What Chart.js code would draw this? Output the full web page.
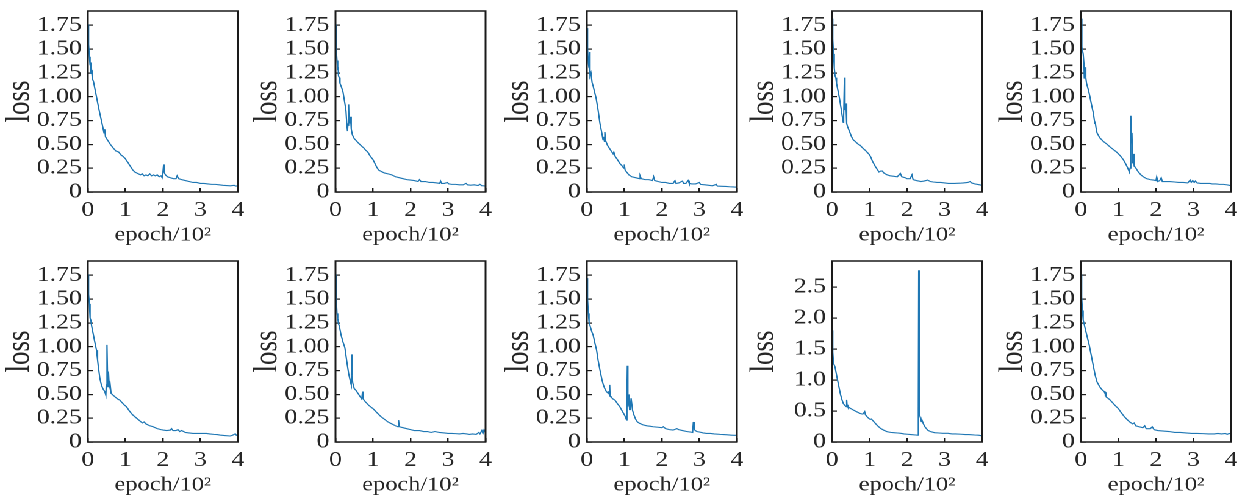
<!DOCTYPE html>
<html>
<head>
<meta charset="utf-8">
<script src="https://cdn.jsdelivr.net/npm/chart.js@4.4.1/dist/chart.umd.min.js"></script>
<style>
  html, body { margin: 0; padding: 0; background: #fff; overflow: hidden; width: 1243px; height: 495px; }
  #wrap { position: absolute; left: 0; top: 0; width: 1019px; height: 495px; transform: scaleX(1.22); transform-origin: 0 0; }
  #wrap canvas { position: absolute; }
</style>
</head>
<body>
<div id="wrap"></div>
<script>
// loss curves, x = epoch/100, y = loss
const run1 = [[0,1.76],[0.02,1.55],[0.04,1.42],[0.06,1.33],[0.07,1.36],[0.08,1.24],[0.1,1.28],[0.12,1.19],[0.15,1.16],[0.2,1.06],[0.25,0.96],[0.3,0.86],[0.35,0.77],[0.4,0.68],[0.43,0.62],[0.45,0.66],[0.47,0.58],[0.5,0.56],[0.55,0.53],[0.6,0.5],[0.68,0.46],[0.75,0.43],[0.82,0.42],[0.88,0.39],[0.95,0.37],[1.0,0.35],[1.03,0.33],[1.07,0.31],[1.1,0.29],[1.15,0.26],[1.2,0.23],[1.25,0.21],[1.3,0.2],[1.35,0.19],[1.4,0.18],[1.45,0.19],[1.5,0.17],[1.55,0.18],[1.6,0.17],[1.65,0.19],[1.7,0.17],[1.75,0.18],[1.8,0.17],[1.85,0.18],[1.9,0.16],[1.95,0.17],[1.98,0.15],[2.0,0.2],[2.02,0.29],[2.04,0.2],[2.07,0.18],[2.12,0.16],[2.2,0.15],[2.28,0.14],[2.35,0.14],[2.38,0.17],[2.42,0.14],[2.5,0.13],[2.6,0.12],[2.7,0.11],[2.8,0.1],[2.9,0.1],[3.0,0.09],[3.1,0.09],[3.2,0.085],[3.3,0.08],[3.4,0.08],[3.5,0.075],[3.6,0.07],[3.7,0.068],[3.8,0.065],[3.9,0.07],[3.95,0.062],[4.0,0.065]];
const run2 = [[0,1.76],[0.02,1.5],[0.04,1.38],[0.06,1.28],[0.07,1.31],[0.08,1.22],[0.1,1.2],[0.12,1.14],[0.16,1.1],[0.2,1.05],[0.25,0.93],[0.28,0.85],[0.3,0.72],[0.32,0.64],[0.33,0.7],[0.35,0.92],[0.36,0.76],[0.38,0.72],[0.4,0.79],[0.42,0.66],[0.45,0.6],[0.5,0.56],[0.55,0.54],[0.62,0.51],[0.7,0.48],[0.76,0.46],[0.8,0.44],[0.86,0.42],[0.92,0.38],[0.96,0.36],[1.0,0.34],[1.05,0.3],[1.1,0.26],[1.15,0.23],[1.2,0.22],[1.25,0.21],[1.3,0.2],[1.4,0.19],[1.5,0.18],[1.55,0.17],[1.6,0.16],[1.7,0.15],[1.8,0.14],[1.9,0.13],[2.0,0.125],[2.1,0.12],[2.2,0.11],[2.24,0.13],[2.28,0.11],[2.4,0.11],[2.5,0.1],[2.6,0.1],[2.7,0.095],[2.78,0.09],[2.8,0.115],[2.83,0.09],[2.9,0.09],[2.98,0.1],[3.02,0.085],[3.1,0.08],[3.2,0.08],[3.3,0.075],[3.4,0.075],[3.48,0.09],[3.52,0.075],[3.6,0.072],[3.7,0.075],[3.8,0.068],[3.85,0.08],[3.9,0.066],[4.0,0.063]];
const run3 = [[0,1.72],[0.02,1.5],[0.04,1.35],[0.06,1.3],[0.07,1.47],[0.08,1.3],[0.09,1.22],[0.11,1.25],[0.14,1.15],[0.17,1.11],[0.2,1.06],[0.25,0.98],[0.3,0.86],[0.35,0.72],[0.4,0.62],[0.43,0.55],[0.45,0.58],[0.47,0.53],[0.48,0.63],[0.5,0.54],[0.55,0.49],[0.6,0.46],[0.65,0.43],[0.7,0.4],[0.72,0.42],[0.76,0.37],[0.8,0.35],[0.88,0.3],[0.95,0.27],[0.98,0.25],[1.0,0.29],[1.02,0.23],[1.06,0.21],[1.12,0.18],[1.2,0.16],[1.3,0.15],[1.4,0.14],[1.42,0.17],[1.45,0.14],[1.55,0.13],[1.65,0.13],[1.75,0.12],[1.78,0.16],[1.81,0.12],[1.9,0.11],[2.0,0.1],[2.1,0.1],[2.2,0.09],[2.3,0.09],[2.35,0.12],[2.38,0.09],[2.45,0.095],[2.55,0.115],[2.58,0.09],[2.64,0.09],[2.7,0.12],[2.73,0.09],[2.8,0.085],[2.9,0.085],[3.0,0.1],[3.03,0.08],[3.15,0.075],[3.25,0.07],[3.35,0.065],[3.45,0.08],[3.48,0.062],[3.6,0.06],[3.7,0.058],[3.8,0.055],[3.9,0.053],[4.0,0.05]];
const run4 = [[0,1.82],[0.02,1.6],[0.04,1.45],[0.06,1.3],[0.08,1.22],[0.1,1.2],[0.12,1.14],[0.16,1.06],[0.2,0.98],[0.24,0.88],[0.27,0.8],[0.3,0.73],[0.31,0.8],[0.33,1.2],[0.34,0.88],[0.35,0.86],[0.37,0.93],[0.39,0.72],[0.41,0.69],[0.45,0.65],[0.48,0.62],[0.52,0.58],[0.57,0.545],[0.62,0.53],[0.7,0.5],[0.75,0.49],[0.82,0.46],[0.88,0.44],[0.93,0.42],[1.0,0.39],[1.04,0.36],[1.08,0.32],[1.11,0.3],[1.15,0.27],[1.2,0.24],[1.25,0.21],[1.3,0.22],[1.34,0.22],[1.38,0.2],[1.42,0.19],[1.47,0.18],[1.55,0.17],[1.65,0.165],[1.74,0.16],[1.82,0.195],[1.86,0.16],[1.95,0.15],[2.0,0.14],[2.08,0.14],[2.13,0.18],[2.16,0.13],[2.25,0.12],[2.37,0.11],[2.45,0.115],[2.55,0.125],[2.62,0.11],[2.7,0.105],[2.8,0.1],[2.9,0.1],[3.0,0.095],[3.1,0.09],[3.26,0.09],[3.4,0.092],[3.5,0.095],[3.62,0.1],[3.68,0.11],[3.72,0.095],[3.8,0.085],[3.9,0.078],[4.0,0.07]];
const run5 = [[0,1.82],[0.02,1.6],[0.03,1.52],[0.06,1.45],[0.08,1.35],[0.09,1.19],[0.11,1.31],[0.13,1.2],[0.15,1.14],[0.2,1.07],[0.24,1.0],[0.28,0.92],[0.33,0.83],[0.37,0.72],[0.38,0.74],[0.4,0.68],[0.43,0.62],[0.5,0.57],[0.6,0.53],[0.7,0.5],[0.77,0.475],[0.85,0.45],[0.95,0.42],[1.05,0.38],[1.13,0.34],[1.2,0.29],[1.25,0.25],[1.29,0.21],[1.31,0.25],[1.33,0.8],[1.34,0.55],[1.36,0.62],[1.37,0.45],[1.38,0.3],[1.4,0.4],[1.42,0.27],[1.45,0.26],[1.53,0.21],[1.6,0.18],[1.66,0.16],[1.75,0.14],[1.85,0.13],[1.93,0.125],[2.0,0.12],[2.02,0.16],[2.05,0.11],[2.1,0.12],[2.14,0.15],[2.17,0.11],[2.25,0.11],[2.37,0.11],[2.5,0.105],[2.6,0.1],[2.73,0.1],[2.85,0.095],[2.91,0.125],[2.94,0.1],[2.98,0.12],[3.02,0.1],[3.05,0.115],[3.1,0.095],[3.2,0.09],[3.3,0.09],[3.44,0.09],[3.5,0.085],[3.6,0.085],[3.7,0.08],[3.8,0.08],[3.9,0.075],[4.0,0.066]];
const run6 = [[0,1.76],[0.02,1.55],[0.04,1.45],[0.06,1.3],[0.08,1.28],[0.1,1.22],[0.14,1.14],[0.18,1.06],[0.23,0.965],[0.26,0.86],[0.28,0.79],[0.32,0.67],[0.36,0.6],[0.4,0.56],[0.45,0.53],[0.48,0.49],[0.49,0.6],[0.5,0.965],[0.51,0.86],[0.52,1.02],[0.53,0.58],[0.55,0.74],[0.57,0.58],[0.59,0.62],[0.62,0.51],[0.68,0.49],[0.72,0.475],[0.8,0.45],[0.85,0.44],[0.92,0.41],[0.97,0.39],[1.03,0.37],[1.1,0.33],[1.16,0.3],[1.21,0.28],[1.3,0.25],[1.39,0.22],[1.45,0.2],[1.5,0.21],[1.55,0.19],[1.65,0.17],[1.74,0.16],[1.85,0.14],[1.95,0.13],[2.01,0.125],[2.1,0.12],[2.2,0.125],[2.23,0.14],[2.27,0.12],[2.35,0.12],[2.4,0.13],[2.45,0.11],[2.5,0.12],[2.6,0.1],[2.7,0.095],[2.8,0.09],[2.9,0.09],[3.0,0.09],[3.1,0.09],[3.16,0.09],[3.25,0.085],[3.35,0.08],[3.45,0.078],[3.52,0.073],[3.65,0.068],[3.79,0.063],[3.85,0.07],[3.9,0.08],[3.93,0.085],[3.96,0.07],[4.0,0.07]];
const run7 = [[0,1.76],[0.02,1.5],[0.04,1.35],[0.06,1.3],[0.08,1.24],[0.1,1.22],[0.15,1.12],[0.2,1.05],[0.25,0.99],[0.3,0.85],[0.35,0.72],[0.4,0.63],[0.42,0.6],[0.43,0.92],[0.44,0.7],[0.46,0.62],[0.5,0.56],[0.55,0.54],[0.6,0.51],[0.65,0.48],[0.7,0.45],[0.72,0.53],[0.74,0.45],[0.8,0.42],[0.9,0.38],[1.0,0.35],[1.1,0.31],[1.2,0.27],[1.3,0.24],[1.4,0.21],[1.5,0.19],[1.6,0.17],[1.66,0.16],[1.68,0.23],[1.7,0.16],[1.8,0.15],[1.9,0.14],[2.0,0.13],[2.1,0.12],[2.24,0.12],[2.35,0.11],[2.45,0.11],[2.55,0.1],[2.65,0.11],[2.77,0.1],[2.9,0.095],[3.0,0.09],[3.1,0.09],[3.2,0.088],[3.3,0.085],[3.4,0.09],[3.5,0.085],[3.57,0.08],[3.65,0.085],[3.75,0.08],[3.82,0.1],[3.85,0.085],[3.9,0.12],[3.93,0.09],[3.96,0.13],[4.0,0.1]];
const run8 = [[0,1.72],[0.02,1.5],[0.04,1.35],[0.06,1.26],[0.1,1.2],[0.14,1.15],[0.17,1.12],[0.22,1.03],[0.26,0.965],[0.3,0.86],[0.35,0.755],[0.4,0.66],[0.44,0.6],[0.48,0.56],[0.52,0.53],[0.57,0.51],[0.59,0.53],[0.61,0.6],[0.62,0.48],[0.65,0.47],[0.7,0.45],[0.75,0.44],[0.82,0.4],[0.88,0.37],[0.95,0.32],[1.01,0.28],[1.06,0.23],[1.07,0.5],[1.08,0.8],[1.09,0.42],[1.1,0.37],[1.12,0.5],[1.14,0.34],[1.16,0.36],[1.18,0.46],[1.2,0.46],[1.22,0.33],[1.26,0.28],[1.3,0.24],[1.35,0.21],[1.41,0.195],[1.5,0.18],[1.6,0.17],[1.7,0.165],[1.77,0.16],[1.9,0.155],[2.0,0.15],[2.04,0.16],[2.1,0.14],[2.2,0.13],[2.3,0.125],[2.4,0.14],[2.45,0.13],[2.55,0.12],[2.66,0.11],[2.75,0.105],[2.82,0.1],[2.84,0.21],[2.86,0.15],[2.88,0.125],[2.93,0.11],[3.0,0.105],[3.1,0.095],[3.19,0.09],[3.3,0.09],[3.4,0.085],[3.55,0.08],[3.65,0.078],[3.75,0.075],[3.85,0.072],[3.93,0.07],[4.0,0.07]];
const run9 = [[0,1.8],[0.02,1.45],[0.04,1.27],[0.08,1.21],[0.13,1.05],[0.18,0.9],[0.22,0.78],[0.26,0.69],[0.3,0.62],[0.34,0.59],[0.38,0.57],[0.39,0.68],[0.4,0.6],[0.42,0.57],[0.5,0.54],[0.57,0.515],[0.65,0.49],[0.75,0.46],[0.82,0.45],[0.87,0.49],[0.89,0.44],[0.93,0.41],[0.98,0.38],[1.02,0.365],[1.05,0.37],[1.11,0.33],[1.2,0.27],[1.29,0.22],[1.38,0.19],[1.47,0.165],[1.56,0.155],[1.65,0.15],[1.75,0.145],[1.83,0.14],[1.92,0.13],[2.01,0.125],[2.1,0.12],[2.23,0.113],[2.28,0.11],[2.3,0.5],[2.31,2.77],[2.32,1.0],[2.33,0.68],[2.34,0.45],[2.36,0.38],[2.38,0.33],[2.4,0.35],[2.43,0.3],[2.47,0.25],[2.55,0.19],[2.62,0.17],[2.73,0.15],[2.85,0.145],[2.95,0.14],[3.09,0.14],[3.2,0.13],[3.3,0.13],[3.44,0.125],[3.55,0.12],[3.65,0.12],[3.8,0.113],[3.9,0.11],[4.0,0.1]];
const run10 = [[0,1.76],[0.02,1.52],[0.04,1.38],[0.06,1.28],[0.08,1.25],[0.12,1.18],[0.17,1.1],[0.22,1.02],[0.28,0.9],[0.33,0.8],[0.38,0.7],[0.43,0.63],[0.5,0.58],[0.56,0.55],[0.62,0.53],[0.65,0.5],[0.67,0.51],[0.68,0.47],[0.72,0.46],[0.78,0.44],[0.85,0.41],[0.92,0.38],[1.0,0.35],[1.07,0.31],[1.15,0.27],[1.22,0.24],[1.3,0.21],[1.38,0.19],[1.42,0.2],[1.46,0.17],[1.55,0.16],[1.65,0.15],[1.7,0.17],[1.74,0.14],[1.85,0.14],[1.9,0.16],[1.95,0.13],[2.05,0.12],[2.2,0.115],[2.35,0.11],[2.5,0.1],[2.65,0.1],[2.8,0.095],[2.95,0.09],[3.1,0.09],[3.25,0.088],[3.4,0.085],[3.55,0.085],[3.65,0.09],[3.75,0.085],[3.85,0.09],[3.9,0.08],[3.95,0.09],[4.0,0.085]];

const runs = [run1, run2, run3, run4, run5, run6, run7, run8, run9, run10];
const xTicks = [0, 1, 2, 3, 4];
const yTicksA = [0, 0.25, 0.5, 0.75, 1.0, 1.25, 1.5, 1.75];
const yTicksB = [0, 0.5, 1.0, 1.5, 2.0, 2.5];
const yMaxA = 1.9;
const yMaxB = 2.92;
const xLabel = 'epoch/10\u00B2';
const yLabel = 'loss';

// layout (x in unstretched px, page is stretched by 1.22 horizontally)
const colLeft = [72.1, 275.4, 481.1, 682.0, 886.1];
const rowTop = [11, 261];
const YW = 72, PW = 123, PR = 18, PT = 26, PH = 181, XH = 55;
const textCol = '#262626';

const boxPlugin = {
  id: 'box',
  afterDraw(chart) {
    const a = chart.chartArea, ctx = chart.ctx;
    ctx.save();
    ctx.strokeStyle = '#1a1a1a';
    ctx.lineWidth = 1.5;
    ctx.strokeRect(a.left, a.top, a.right - a.left, a.bottom - a.top);
    ctx.restore();
  }
};

const wrap = document.getElementById('wrap');
runs.forEach((run, i) => {
  const col = i % 5, row = Math.floor(i / 5);
  const big = (i === 8);
  const yTicks = big ? yTicksB : yTicksA;
  const dec = big ? 1 : 2;
  const cv = document.createElement('canvas');
  const w = YW + PW + PR, h = PT + PH + XH;
  cv.style.left = (colLeft[col] - YW) + 'px';
  cv.style.top = (rowTop[row] - PT) + 'px';
  cv.style.width = w + 'px';
  cv.style.height = h + 'px';
  cv.width = w; cv.height = h;
  wrap.appendChild(cv);

  new Chart(cv, {
    type: 'line',
    data: {
      datasets: [{
        data: run.map(p => ({x: p[0], y: p[1]})),
        borderColor: '#1f77b4',
        borderWidth: 1.1,
        pointRadius: 0,
        tension: 0,
        fill: false
      }]
    },
    options: {
      responsive: false,
      animation: false,
      devicePixelRatio: 2,
      layout: { padding: { top: PT, right: PR, left: 0, bottom: 0 } },
      plugins: { legend: { display: false }, tooltip: { enabled: false } },
      scales: {
        x: {
          type: 'linear',
          min: 0, max: 4,
          afterBuildTicks: s => { s.ticks = xTicks.map(v => ({value: v})); },
          afterFit: s => { s.height = XH; },
          border: { display: false },
          grid: { drawOnChartArea: false, tickLength: -4, color: '#1a1a1a', lineWidth: 1.2 },
          ticks: {
            padding: 10, color: textCol, maxRotation: 0, autoSkip: false,
            font: { family: 'Liberation Serif', size: 21 },
            callback: v => String(v)
          },
          title: {
            display: true, text: xLabel, color: textCol, padding: 0,
            font: { family: 'Liberation Serif', size: 20, lineHeight: 1.2 }
          }
        },
        y: {
          min: 0, max: big ? yMaxB : yMaxA,
          afterBuildTicks: s => { s.ticks = yTicks.map(v => ({value: v})); },
          afterFit: s => { s.width = YW; },
          border: { display: false },
          grid: { drawOnChartArea: false, tickLength: -4, color: '#1a1a1a', lineWidth: 1.2 },
          ticks: {
            padding: 9, color: textCol, autoSkip: false,
            font: { family: 'Liberation Serif', size: 21 },
            callback: v => v === 0 ? '0' : Number(v).toFixed(dec)
          },
          title: {
            display: true, text: yLabel, color: textCol, padding: 0,
            font: { family: 'Liberation Serif', size: 27, lineHeight: 1.2 }
          }
        }
      }
    },
    plugins: [boxPlugin]
  });
});
</script>
</body>
</html>
